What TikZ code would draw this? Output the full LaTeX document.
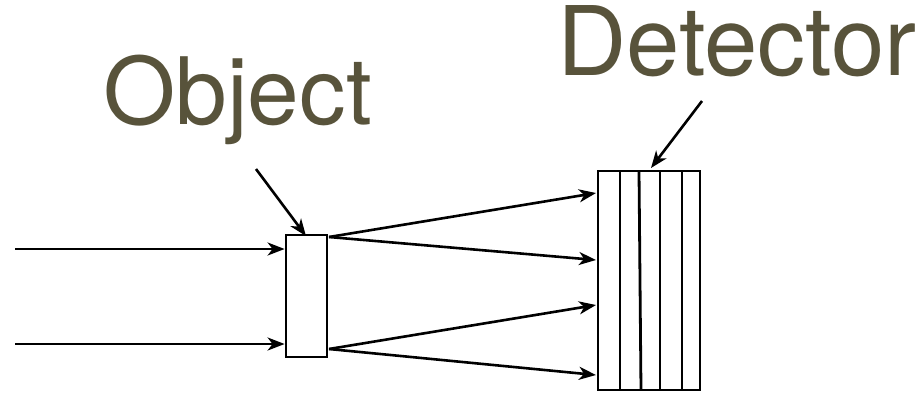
\documentclass[tikz,border=0pt]{standalone}
\usepackage{fontspec}
\setmainfont{TeX Gyre Heros}
\usetikzlibrary{arrows.meta}
\definecolor{labelolive}{HTML}{58533B}
\tikzset{
  ray/.style={line width=2.6pt, -{Stealth[length=17pt, width=13pt, inset=5pt]}},
  plate/.style={draw, line width=2.8pt, fill=white, inner sep=0pt},
  strip/.style={line width=2.8pt},
  caption/.style={text=labelolive, inner sep=0pt},
}
\begin{document}
\begin{tikzpicture}[x=1pt, y=-1pt]
  \useasboundingbox (0,0) rectangle (916,392);

  % sample and detector stack
  \node[plate, minimum width=41pt, minimum height=122pt] (obj) at (306.5,296) {};
  \node[plate, minimum width=102pt, minimum height=219pt] (det) at (649,280.5) {};
  \foreach \i/\xt/\xb in {1/620/620, 2/639/641, 3/660/660, 4/682/682}{
    \coordinate (st\i) at (\xt,171);
    \coordinate (sb\i) at (\xb,390);
    \draw[strip] (st\i) -- (sb\i);
  }

  % labels
  \node[caption, anchor=base west, font=\fontsize{93}{93}\selectfont] (objlabel) at (103,124) {Object};
  \node[caption, anchor=base west, font=\fontsize{96}{96}\selectfont] (detlabel) at (557,75) {Detector};

  % incoming beams
  \coordinate (in1) at (15,249);
  \coordinate (in2) at (15,344);
  \draw[ray] (in1) -- (obj.west |- in1);
  \draw[ray] (in2) -- (obj.west |- in2);

  % scattered beams
  \coordinate (out1) at (329,237);
  \coordinate (out2) at (329,349);
  \coordinate (hit1) at (596,193);
  \coordinate (hit2) at (596,260);
  \coordinate (hit3) at (596,305);
  \coordinate (hit4) at (596,375);
  \draw[ray] (out1) -- (hit1);
  \draw[ray] (out1) -- (hit2);
  \draw[ray] (out2) -- (hit3);
  \draw[ray] (out2) -- (hit4);

  % label pointers
  \coordinate (objtail) at (256,169);
  \coordinate (dettail) at (702,101);
  \draw[ray] (objtail) -- (306,236);
  \draw[ray] (dettail) -- (651,168);
\end{tikzpicture}
\end{document}
